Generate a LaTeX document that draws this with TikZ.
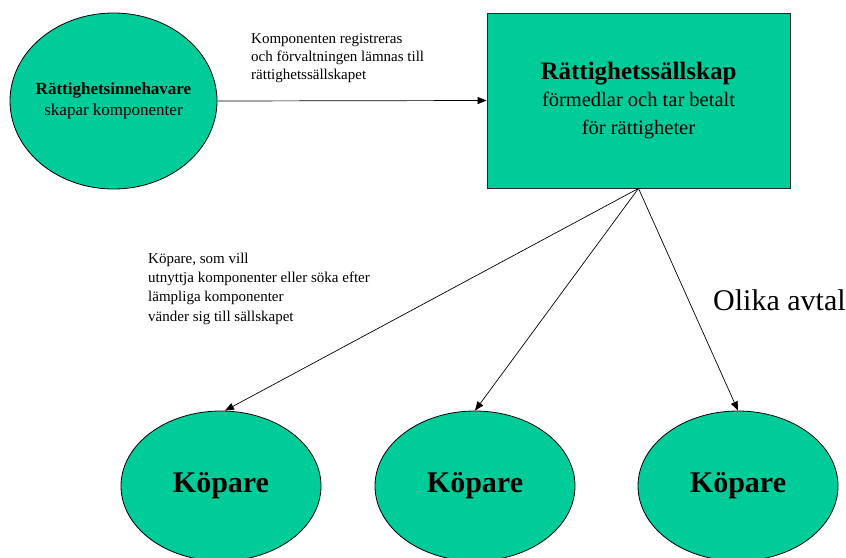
\documentclass[tikz,border=0pt]{standalone}
\usepackage{fontspec}
\setmainfont{Liberation Serif}
\usetikzlibrary{shapes.geometric,arrows.meta}
\definecolor{partygreen}{RGB}{0,204,153}
\definecolor{edgegray}{RGB}{40,40,40}

\begin{document}
\begin{tikzpicture}[x=1pt,y=-1pt,
  party/.style={ellipse,draw=black,line width=0.8pt,fill=partygreen,inner sep=0pt,align=center},
  buyer/.style={party,minimum width=200pt,minimum height=150pt,
    font=\fontsize{30}{34}\selectfont\bfseries},
  flow/.style={-{Triangle[length=9pt,width=7pt]},line width=0.7pt},
  note/.style={inner sep=0pt,align=left,anchor=north west}]
\useasboundingbox (0,0) rectangle (846,557);

% rights holder
\node[party,inner xsep=-5pt,minimum width=207pt,minimum height=176pt,
  font=\fontsize{17}{21}\selectfont] (holder) at (113.5,101)
  {\textbf{Rättighetsinnehavare}\\skapar komponenter};

% collecting society
\node[draw=edgegray,line width=0.8pt,fill=partygreen,inner sep=0pt,
  minimum width=303pt,minimum height=175pt,align=center,
  font=\fontsize{20.5}{27.5}\selectfont] (society) at (638.5,100.5)
  {{\fontsize{25}{27.5}\selectfont\bfseries Rättighetssällskap}\\
   förmedlar och tar betalt\\för rättigheter};

% buyers
\node[buyer] (buyerA) at (221,486) {Köpare};
\node[buyer] (buyerB) at (475,486) {Köpare};
\node[buyer] (buyerC) at (738,486) {Köpare};

% connectors
\draw[flow] (holder.east) -- (society.west);
\draw[flow] (society.south) -- ([xshift=4pt]buyerA.north);
\draw[flow] (society.south) -- (buyerB.north);
\draw[flow] (society.south) -- (buyerC.north);

% annotations
\node[note,font=\fontsize{15}{18.3}\selectfont] (regnote) at (251,33)
  {Komponenten registreras\\och förvaltningen lämnas till\\rättighetssällskapet};
\node[note,font=\fontsize{15}{19.3}\selectfont] (buynote) at (148,252.5)
  {Köpare, som vill\\utnyttja komponenter eller söka efter\\lämpliga komponenter\\vänder sig till sällskapet};
\node[inner sep=0pt,anchor=base west,font=\fontsize{30}{34}\selectfont] (deals) at (713,310)
  {Olika avtal};
\end{tikzpicture}
\end{document}
